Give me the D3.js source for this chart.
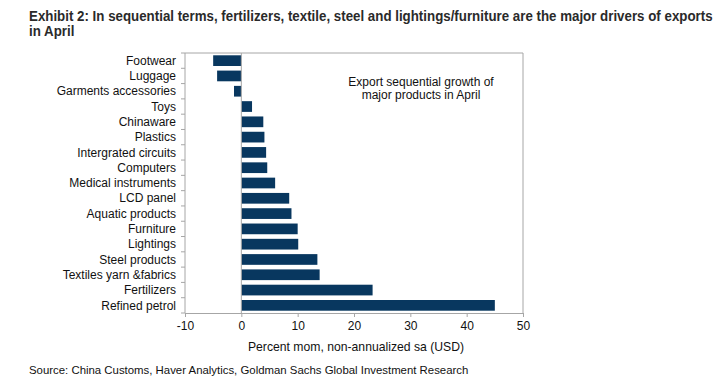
<!DOCTYPE html>
<html>
<head>
<meta charset="utf-8">
<script src="https://cdn.jsdelivr.net/npm/d3@7"></script>
<style>
body{margin:0;background:#fff;}
svg text{font-family:"Liberation Sans",Arial,sans-serif;fill:#111;}
.title{font-weight:bold;font-size:14px;fill:#2a2a2a;}
</style>
</head>
<body>
<div id="chart"></div>
<script>
var categories=["Footwear","Luggage","Garments accessories","Toys","Chinaware","Plastics","Intergrated circuits","Computers","Medical instruments","LCD panel","Aquatic products","Furniture","Lightings","Steel products","Textiles yarn &fabrics","Fertilizers","Refined petrol"];
var values=[-5.0,-4.3,-1.3,1.9,3.9,4.1,4.4,4.6,6.0,8.5,8.9,10.0,10.1,13.5,13.9,23.3,45.0];
var xTicks=[-10,0,10,20,30,40,50];

var width=728,height=384;
var svg=d3.select("#chart").append("svg").attr("width",width).attr("height",height);

var pLeft=185,pRight=523,pTop=53,pBottom=313;
var x=d3.scaleLinear().domain([-10,50]).range([pLeft,pRight]);
var y=d3.scaleBand().domain(categories).range([pTop,pBottom]).paddingInner(0.3).paddingOuter(0.15);

// titles (no narrow font installed -> squeeze horizontally)
var t1=svg.append("text").attr("class","title").attr("x",0).attr("y",0)
	.text("Exhibit 2: In sequential terms, fertilizers, textile, steel and lightings/furniture are the major drivers of exports");
var squeeze=684/t1.node().getComputedTextLength();
t1.attr("transform","translate(29,21) scale("+squeeze+",1)");
svg.append("text").attr("class","title").attr("transform","translate(29,36) scale("+squeeze+",1)").text("in April");

// plot frame (top and right)
svg.append("path")
	.attr("d","M"+pLeft+","+pTop+"H"+pRight+"V"+pBottom)
	.style("fill","none").style("stroke","#a6a6a6").style("stroke-width","1px");

// bars
svg.selectAll("rect.bar").data(categories).enter().append("rect")
	.attr("class","bar")
	.attr("x",function(d,i){return x(Math.min(0,values[i]));})
	.attr("y",function(d){return y(d);})
	.attr("width",function(d,i){return Math.abs(x(values[i])-x(0));})
	.attr("height",y.bandwidth())
	.style("fill","#08375f");

// zero line
svg.append("line").attr("x1",x(0)).attr("x2",x(0)).attr("y1",pTop).attr("y2",pBottom)
	.style("stroke","#a6a6a6").style("stroke-width","1px");

// left axis
svg.append("line").attr("x1",pLeft).attr("x2",pLeft).attr("y1",pTop).attr("y2",pBottom)
	.style("stroke","#a6a6a6");
var step=y.step();
var bounds=categories.map(function(d){return y(d)-step*y.paddingInner()/2;});
bounds.push(pBottom);
svg.selectAll("line.ytick").data(bounds).enter().append("line")
	.attr("class","ytick")
	.attr("x1",pLeft-4).attr("x2",pLeft)
	.attr("y1",function(d){return d;}).attr("y2",function(d){return d;})
	.style("stroke","#a6a6a6");
svg.selectAll("text.ylab").data(categories).enter().append("text")
	.attr("class","ylab")
	.attr("x",176)
	.attr("y",function(d){return y(d)+y.bandwidth()/2;})
	.attr("dy","0.35em")
	.style("text-anchor","end")
	.style("font-size","12px")
	.text(function(d){return d;});

// bottom axis
var xAxis=svg.append("g").attr("transform","translate(0,"+pBottom+")")
	.call(d3.axisBottom(x).tickValues(xTicks).tickSize(4).tickPadding(4).tickFormat(function(d){return String(d);}));
xAxis.select(".domain").style("stroke","#a6a6a6");
xAxis.selectAll(".tick line").style("stroke","#a6a6a6");
xAxis.selectAll(".tick text").style("font-size","12px").style("font-family","\"Liberation Sans\",Arial,sans-serif").style("fill","#111");

svg.append("text").attr("x",356).attr("y",351).style("text-anchor","middle").style("font-size","12.2px")
	.text("Percent mom, non-annualized sa (USD)");

// annotation
svg.append("text").attr("x",421).attr("y",86).style("text-anchor","middle").style("font-size","12px")
	.text("Export sequential growth of");
svg.append("text").attr("x",421).attr("y",99).style("text-anchor","middle").style("font-size","12px")
	.text("major products in April");

// source
svg.append("text").attr("x",29).attr("y",374).style("font-size","11.4px")
	.text("Source: China Customs, Haver Analytics, Goldman Sachs Global Investment Research");
</script>
</body>
</html>
